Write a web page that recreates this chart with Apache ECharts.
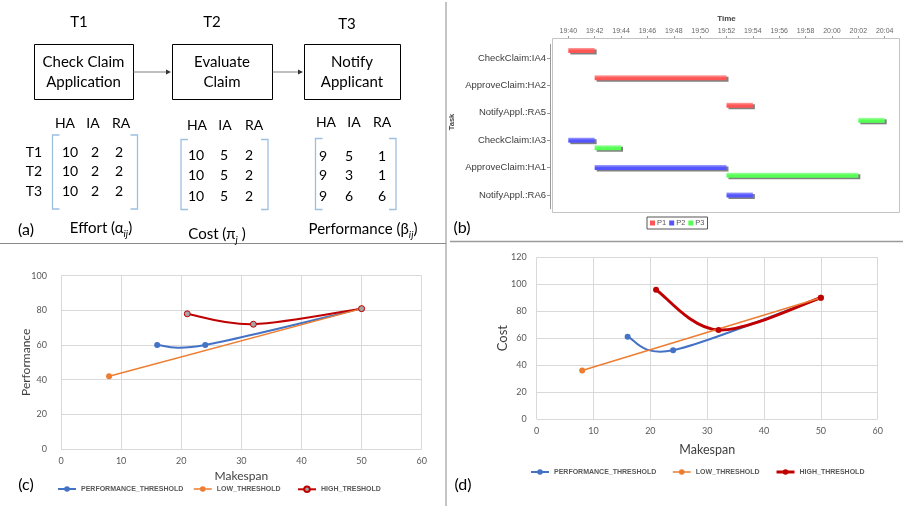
<!DOCTYPE html>
<html><head><meta charset="utf-8">
<script src="https://cdn.jsdelivr.net/npm/echarts@6/dist/echarts.min.js"></script>
<style>html,body{margin:0;padding:0;background:#fff}#c{width:903px;height:506px}</style>
</head><body><div id="c"></div>
<script>
// ---------- Panel (a) data ----------
const taskNames = ['T1', 'T2', 'T3'];
const taskBoxLines = [['Check Claim', 'Application'], ['Evaluate', 'Claim'], ['Notify', 'Applicant']];
const resourceHeaders = ['HA', 'IA', 'RA'];
const effortMatrix = [[10, 2, 2], [10, 2, 2], [10, 2, 2]];
const costMatrix = [[10, 5, 2], [10, 5, 2], [10, 5, 2]];
const performanceMatrix = [[9, 5, 1], [9, 3, 1], [9, 6, 6]];

// ---------- Panel (b) data ----------
const ganttCategories = ['CheckClaim:IA4', 'ApproveClaim:HA2', 'NotifyAppl.:RA5', 'CheckClaim:IA3', 'ApproveClaim:HA1', 'NotifyAppl.:RA6'];
const ganttSeriesNames = ['P1', 'P2', 'P3'];
const ganttTickLabels = ['19:40', '19:42', '19:44', '19:46', '19:48', '19:50', '19:52', '19:54', '19:56', '19:58', '20:00', '20:02', '20:04'];
const p1Bars = [['CheckClaim:IA4', '19:40', '19:42'], ['ApproveClaim:HA2', '19:42', '19:52'], ['NotifyAppl.:RA5', '19:52', '19:54']];
const p2Bars = [['CheckClaim:IA3', '19:40', '19:42'], ['ApproveClaim:HA1', '19:42', '19:52'], ['NotifyAppl.:RA6', '19:52', '19:54']];
const p3Bars = [['NotifyAppl.:RA5', '20:02', '20:04'], ['CheckClaim:IA3', '19:42', '19:44'], ['ApproveClaim:HA1', '19:52', '20:02']];

// ---------- Panel (c) data ----------
const cPerfThreshold = [[16, 60], [24, 60], [50, 81]];
const cLowThreshold = [[8, 42], [50, 81]];
const cHighThreshold = [[21, 78], [32, 72], [50, 81]];

// ---------- Panel (d) data ----------
const dPerfThreshold = [[16, 61], [24, 51], [50, 90]];
const dLowThreshold = [[8, 36], [50, 90]];
const dHighThreshold = [[21, 96], [32, 66], [50, 90]];

// ---------- helpers ----------
const FONT = 'Lato, "Noto Sans", sans-serif';
const ARIAL = '"Liberation Sans", Arial, sans-serif';
const BR = '#9fbfe0';
function txt(x, y, text, o) {
  return {type: 'text', silent: true, z: 10, style: Object.assign({
    x: x, y: y, text: text, fill: '#000', fontSize: 15, fontFamily: FONT,
    align: 'center', verticalAlign: 'middle', textAlign: 'center', textVerticalAlign: 'middle'}, o || {})};
}
function line(x1, y1, x2, y2, stroke, w) {
  return {type: 'line', silent: true, shape: {x1: x1, y1: y1, x2: x2, y2: y2}, style: {stroke: stroke, lineWidth: w || 1}};
}
function bracket(x, y1, y2, dir) {
  return {type: 'polyline', silent: true, shape: {points: [[x + dir * 7, y1], [x, y1], [x, y2], [x + dir * 7, y2]]},
    style: {stroke: BR, lineWidth: 1.3, fill: null}};
}
const toMin = t => { const [h, m] = t.split(':').map(Number); return h * 60 + m - (19 * 60 + 40); };

const g = [];
// dividers
g.push(line(446, 2, 446, 506, '#8a8a8a', 1));
g.push(line(0, 243.5, 446, 243.5, '#8a8a8a', 1));
g.push(line(450, 241.5, 903, 241.5, '#9a9a9a', 1.5));

// Panel (a): flow
const taskLabelPos = [[79, 22], [212, 22], [347, 24]];
const boxRects = [[34, 44, 99, 55], [172, 44, 100, 55], [304, 44, 96, 55]];
taskNames.forEach((t, i) => {
  g.push(txt(taskLabelPos[i][0], taskLabelPos[i][1], t));
  const b = boxRects[i];
  g.push({type: 'rect', silent: true, shape: {x: b[0] + 0.5, y: b[1] + 0.5, width: b[2], height: b[3]}, style: {fill: '#fff', stroke: '#000', lineWidth: 1}});
  const cx = b[0] + b[2] / 2;
  g.push(txt(cx, 62, taskBoxLines[i][0]));
  g.push(txt(cx, 82, taskBoxLines[i][1]));
});
[[133.5, 171], [272.5, 303]].forEach(a => {
  g.push(line(a[0], 72, a[1] - 4, 72, '#808080', 1));
  g.push({type: 'polygon', silent: true, shape: {points: [[a[1], 72], [a[1] - 5, 69.5], [a[1] - 5, 74.5]]}, style: {fill: '#333'}});
});

// Panel (a): matrices
function matrix(m, headX, headY, colX, rowY, bx1, bx2, by1, by2) {
  resourceHeaders.forEach((h, j) => g.push(txt(headX[j], headY, h, {fontSize: 14})));
  m.forEach((row, i) => row.forEach((v, j) => g.push(txt(colX[j], rowY[i], String(v), {fontSize: 14}))));
  g.push(bracket(bx1, by1, by2, 1));
  g.push(bracket(bx2, by1, by2, -1));
}
matrix(effortMatrix, [65, 93, 121], 123, [70, 95, 119], [152, 171, 191], 52.5, 137.5, 135, 209);
taskNames.forEach((t, i) => g.push(txt(34, [152, 171, 191][i], t, {fontSize: 14})));
matrix(costMatrix, [197, 225, 254], 125, [196, 224, 249], [155, 175, 196], 181, 268, 139.5, 209.5);
matrix(performanceMatrix, [326, 354, 382], 122, [323, 349, 382], [156, 175, 196], 315.5, 396, 138.5, 209.5);

const capRich = {m: {fontSize: 15, fontFamily: FONT, lineHeight: 18, verticalAlign: 'bottom'},
  s: {fontSize: 10, fontFamily: FONT, fontStyle: 'italic', lineHeight: 12, verticalAlign: 'bottom', padding: [0, 0, -3, 0]}};
g.push(txt(101, 227, '{m|Effort (α}{s|ij}{m|)}', {rich: capRich}));
g.push(txt(217, 233, '{m|Cost (π}{s|j}{m| )}', {rich: capRich}));
g.push(txt(363, 228, '{m|Performance (β}{s|ij}{m|)}', {rich: capRich}));
g.push(txt(26, 230, '(a)', {fontSize: 16}));

// Panel (b) decorations
g.push({type: 'rect', silent: true, z: 1, shape: {x: 552.5, y: 38.5, width: 347, height: 174}, style: {fill: null, stroke: '#c4c4c4', lineWidth: 1}});
g.push({type: 'text', silent: true, z: 10, x: 452, y: 122, rotation: Math.PI / 2,
  style: {text: 'Task', x: 0, y: 0, fontSize: 7.5, fontWeight: 'bold', fontFamily: ARIAL, fill: '#444',
    align: 'center', verticalAlign: 'middle', textAlign: 'center', textVerticalAlign: 'middle'}});
g.push(txt(462, 228, '(b)', {fontSize: 16}));
g.push(txt(26, 485, '(c)', {fontSize: 16}));
g.push(txt(463, 485, '(d)', {fontSize: 16}));

const ganttColors = [['#ff5555', '#ffa0a0'], ['#5555ff', '#a0a0ff'], ['#55ff55', '#a8ffa8']];
function ganttSeries(idx, bars) {
  const color = ganttColors[idx][0], light = ganttColors[idx][1];
  return {
    type: 'custom', name: ganttSeriesNames[idx], xAxisIndex: 0, yAxisIndex: 0,
    itemStyle: {color: color}, encode: {x: [1, 2], y: 0}, silent: true,
    data: bars.map(b => [ganttCategories.indexOf(b[0]), toMin(b[1]), toMin(b[2])]),
    renderItem: function (params, api) {
      const c = api.value(0);
      const a = api.coord([api.value(1), c]);
      const b = api.coord([api.value(2), c]);
      const band = api.size([0, 1])[1];
      const h = 5;
      const yc = a[1] + (idx - 1) * band * 0.275;
      const w = b[0] - a[0];
      return {type: 'group', children: [
        {type: 'rect', shape: {x: a[0] + 2, y: yc - h / 2 + 1.5, width: w, height: h}, style: {fill: '#808080'}},
        {type: 'rect', shape: {x: a[0], y: yc - h / 2, width: w, height: h},
          style: {fill: new echarts.graphic.LinearGradient(0, 0, 0, 1, [{offset: 0, color: light}, {offset: 0.5, color: color}, {offset: 1, color: color}])}}
      ]};
    }
  };
}

// Excel-like smooth curve (Catmull-Rom style Bezier in pixel space), each point mapped via api.coord
function curveSeries(name, data, xi, color, width) {
  return {
    type: 'custom', name: name + '_curve', xAxisIndex: xi, yAxisIndex: xi, silent: true,
    encode: {x: 0, y: 1}, data: data, z: 2,
    renderItem: function (params, api) {
      const i = params.dataIndex;
      if (i >= data.length - 1) return null;
      const P = data.map(d => api.coord(d));
      const p0 = P[Math.max(i - 1, 0)], p1 = P[i], p2 = P[i + 1], p3 = P[Math.min(i + 2, P.length - 1)];
      return {type: 'bezierCurve', shape: {
        x1: p1[0], y1: p1[1], x2: p2[0], y2: p2[1],
        cpx1: p1[0] + (p2[0] - p0[0]) / 6, cpy1: p1[1] + (p2[1] - p0[1]) / 6,
        cpx2: p2[0] - (p3[0] - p1[0]) / 6, cpy2: p2[1] - (p3[1] - p1[1]) / 6},
        style: {stroke: color, lineWidth: width, fill: null, lineCap: 'round'}};
    }
  };
}

const axisLbl = {color: '#595959', fontSize: 9, fontFamily: FONT};
const splitL = {show: true, lineStyle: {color: '#d9d9d9', width: 1}};
function pointSeries(name, data, xi, color, width, sym) {
  const curved = data.length > 2;
  return {type: 'line', name: name, xAxisIndex: xi, yAxisIndex: xi, data: data, smooth: false, z: 3,
    symbol: 'circle', symbolSize: 6, lineStyle: {color: color, width: width, opacity: curved ? 0 : 1},
    itemStyle: sym || {color: color}, silent: true};
}
function lineGroup(name, data, xi, color, width, sym) {
  const out = [];
  if (data.length > 2) out.push(curveSeries(name, data, xi, color, width));
  out.push(pointSeries(name, data, xi, color, width, sym));
  return out;
}
function oneLegend(name, left, top, color, width) {
  return {show: true, data: [{name: name, lineStyle: {color: color, width: width, opacity: 1}}], left: left, top: top, padding: 0,
    itemWidth: 18, itemHeight: 7, selectedMode: false,
    textStyle: {fontSize: 7, fontWeight: 'bold', color: '#595959', fontFamily: ARIAL}};
}

const option = {
  animation: false,
  textStyle: {fontFamily: FONT},
  grid: [
    {left: 568.3, right: 18.3, top: 44.3, height: 164.4},
    {left: 61, width: 360.7, top: 275.7, height: 173.3},
    {left: 536.7, width: 341, top: 257.3, height: 161.7}
  ],
  xAxis: [
    {gridIndex: 0, type: 'value', position: 'top', min: 0, max: 24, interval: 2, offset: 6.3,
      axisLine: {show: false, onZero: false}, axisTick: {show: true, length: 2, lineStyle: {color: '#999'}},
      axisLabel: {fontSize: 7, color: '#666', margin: 3, fontFamily: ARIAL, formatter: v => ganttTickLabels[Math.round(v / 2)] || ''},
      splitLine: {show: false},
      name: 'Time', nameLocation: 'middle', nameGap: 15, nameMoveOverlap: false,
      nameTextStyle: {fontSize: 8, fontWeight: 'bold', color: '#444', fontFamily: ARIAL}},
    {gridIndex: 1, type: 'value', min: 0, max: 60, interval: 10, axisLine: {show: false}, axisTick: {show: false},
      axisLabel: Object.assign({margin: 8}, axisLbl), splitLine: splitL, nameMoveOverlap: false,
      name: 'Makespan', nameLocation: 'middle', nameGap: 21, nameTextStyle: {fontSize: 12, color: '#404040', fontFamily: FONT}},
    {gridIndex: 2, type: 'value', min: 0, max: 60, interval: 10, axisLine: {show: false}, axisTick: {show: false},
      axisLabel: Object.assign({margin: 8}, axisLbl), splitLine: splitL, nameMoveOverlap: false,
      name: 'Makespan', nameLocation: 'middle', nameGap: 24, nameTextStyle: {fontSize: 12.5, color: '#404040', fontFamily: FONT}}
  ],
  yAxis: [
    {gridIndex: 0, type: 'category', data: ganttCategories, inverse: true, offset: 18.3,
      axisLine: {show: true, onZero: false, lineStyle: {color: '#999'}},
      axisTick: {show: true, length: 3, alignWithLabel: true, lineStyle: {color: '#999'}},
      axisLabel: {fontSize: 9.5, color: '#3a3a3a', margin: 4, fontFamily: ARIAL}, splitLine: {show: false}},
    {gridIndex: 1, type: 'value', min: 0, max: 100, interval: 20, axisLine: {show: false}, axisTick: {show: false},
      axisLabel: Object.assign({margin: 14}, axisLbl), splitLine: splitL, nameMoveOverlap: false,
      name: 'Performance', nameLocation: 'middle', nameGap: 29, nameTextStyle: {fontSize: 12, color: '#404040', fontFamily: FONT}},
    {gridIndex: 2, type: 'value', min: 0, max: 120, interval: 20, axisLine: {show: false}, axisTick: {show: false},
      axisLabel: Object.assign({margin: 10}, axisLbl), splitLine: splitL, nameMoveOverlap: false,
      name: 'Cost', nameLocation: 'middle', nameGap: 27, nameTextStyle: {fontSize: 13, color: '#404040', fontFamily: FONT}}
  ],
  legend: [
    {show: true, data: ganttSeriesNames.map((n, i) => ({name: n, itemStyle: {color: ganttColors[i][0]}})),
      left: 647, top: 217, padding: [2, 3], itemWidth: 5, itemHeight: 5, itemGap: 3, icon: 'rect', selectedMode: false,
      borderColor: '#555', borderWidth: 1, textStyle: {fontSize: 7.5, color: '#555', fontFamily: ARIAL, padding: [0, 0, 0, -3]}},
    oneLegend('PERFORMANCE_THRESHOLD', 57, 485.5, '#4472C4', 2),
    oneLegend('LOW_THRESHOLD', 193, 485.5, '#ED7D31', 1.5),
    oneLegend('HIGH_TRESHOLD', 297, 485.5, '#C00000', 2),
    oneLegend('PERFORMANCE_THRESHOLD ', 530, 468.5, '#4472C4', 2),
    oneLegend('LOW_THRESHOLD ', 672, 468.5, '#ED7D31', 1.5),
    oneLegend('HIGH_THRESHOLD', 775, 468.5, '#C00000', 3)
  ],
  graphic: {elements: g},
  series: [].concat(
    ganttSeries(0, p1Bars), ganttSeries(1, p2Bars), ganttSeries(2, p3Bars),
    lineGroup('PERFORMANCE_THRESHOLD', cPerfThreshold, 1, '#4472C4', 2),
    lineGroup('LOW_THRESHOLD', cLowThreshold, 1, '#ED7D31', 1.5),
    lineGroup('HIGH_TRESHOLD', cHighThreshold, 1, '#C00000', 2, {color: '#A5A5A5', borderColor: '#C00000', borderWidth: 1}),
    lineGroup('PERFORMANCE_THRESHOLD ', dPerfThreshold, 2, '#4472C4', 2),
    lineGroup('LOW_THRESHOLD ', dLowThreshold, 2, '#ED7D31', 1.5),
    lineGroup('HIGH_THRESHOLD', dHighThreshold, 2, '#C00000', 3)
  )
};
const chart = echarts.init(document.getElementById('c'), null, {renderer: 'canvas', width: 903, height: 506});
chart.setOption(option);
</script>
</body></html>
